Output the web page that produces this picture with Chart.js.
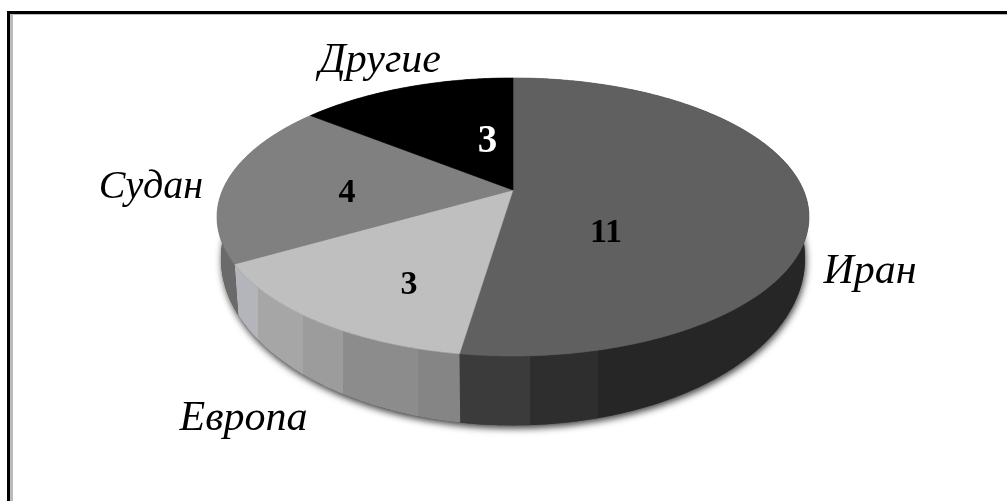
<!DOCTYPE html>
<html>
<head>
<meta charset="utf-8">
<title>Другие, Судан, Европа, Иран</title>
<script src="https://cdn.jsdelivr.net/npm/chart.js@4"></script>
<style>
  body { margin: 0; background: #fff; }
  #marco {
    position: absolute; left: 7px; top: 11px; width: 1000px; height: 490px;
    box-sizing: border-box;
    border-left: 3px solid #000; border-top: 3px solid #000;
    box-shadow: inset 3px 1px 0 #bbb;
  }
  #grafico { position: absolute; left: 0; top: 0; }
</style>
</head>
<body>
<div id="marco"></div>
<canvas id="grafico" width="1007" height="501"></canvas>
<script>
// clockwise from twelve o'clock
const paises = ['Иран', 'Европа', 'Судан', 'Другие'];
const valores = [11, 3, 4, 3];

const coloresTapa = ['#606060', '#bfbfbf', '#808080', '#000000'];
const coloresValor = ['#000', '#000', '#000', '#fff'];

// text anchors on the baseline, same order as paises
const posPais = [[870, 283], [243.5, 430], [151, 198], [380, 72]];
const fuentePais = [42, 42, 40, 42];
const posValor = [[606, 242], [409, 294], [347, 202], [487.5, 152]];
const fuenteValor = [34, 34, 34, 39];

// wall shading: [x, colour] hard steps, the facets of the rounded side
const facetasPared = [
  [[460, '#3b3b3b'], [530, '#2e2e2e'], [598, '#262626'], [810, '#232323']],
  [[237, '#b4b4bb'], [258, '#a6a6a6'], [303, '#9c9c9c'], [343, '#8c8c8c'], [418, '#858585'], [460, '#7a7a7a']],
  [[215, '#6a6a6a'], [240, '#737373']],
  [[215, '#222222'], [810, '#222222']]
];

// perspective disc: k tilts the far side away, tapa = top rim, base = bottom rim
const k = 0.194;
const tapa = { a: 290.4, b: 133.8, y: 190 };
const base = { a: 286.5, b: 160.7, y: 226 };

function proyectar(disco, cx, angulo, r) {
  // chart.js angles start at -PI/2, so sin/cos here are taken from the top
  const t = angulo + Math.PI / 2;
  const u = r * Math.sin(t), v = r * Math.cos(t);
  const w = 1 + k * v;
  return [cx + disco.a * u / w, disco.y - disco.b * v / w];
}

function trazarBorde(ctx, disco, cx, desde, hasta) {
  const pasos = Math.max(2, Math.ceil(Math.abs(hasta - desde) / 0.01));
  for (let i = 0; i <= pasos; i++) {
    const p = proyectar(disco, cx, desde + (hasta - desde) * i / pasos, 1);
    ctx.lineTo(p[0], p[1]);
  }
}

function gradientePared(ctx, pasos) {
  const x0 = 200, x1 = 820;
  const g = ctx.createLinearGradient(x0, 0, x1, 0);
  pasos.forEach((paso, i) => {
    const ini = (Math.max(paso[0], x0) - x0) / (x1 - x0);
    const fin = i + 1 < pasos.length ? (pasos[i + 1][0] - x0) / (x1 - x0) : 1;
    g.addColorStop(ini, paso[1]);
    g.addColorStop(fin, paso[1]);
  });
  return g;
}

const pastel3d = {
  id: 'pastel3d',
  // the flat arcs are replaced, the slices are painted from the arc angles below
  beforeDatasetDraw(chart) {
    const ctx = chart.ctx;
    const arcos = chart.getDatasetMeta(0).data;
    const cx = arcos[0].x;

    ctx.save();
    // soft shadow under the disc
    ctx.shadowColor = 'rgba(0,0,0,0.75)';
    ctx.shadowBlur = 7;
    ctx.shadowOffsetX = 1;
    ctx.shadowOffsetY = 3;
    ctx.fillStyle = '#444';
    ctx.beginPath();
    trazarBorde(ctx, base, cx, 0, Math.PI * 2);
    ctx.closePath();
    ctx.fill();
    ctx.restore();

    // walls
    arcos.forEach((arco, i) => {
      ctx.beginPath();
      trazarBorde(ctx, tapa, cx, arco.startAngle, arco.endAngle);
      trazarBorde(ctx, base, cx, arco.endAngle, arco.startAngle);
      ctx.closePath();
      ctx.fillStyle = gradientePared(ctx, facetasPared[i]);
      ctx.fill();
    });

    // top face
    arcos.forEach(arco => {
      const color = arco.options.backgroundColor;
      ctx.beginPath();
      ctx.moveTo(cx, tapa.y);
      trazarBorde(ctx, tapa, cx, arco.startAngle, arco.endAngle);
      ctx.closePath();
      ctx.fillStyle = color;
      ctx.strokeStyle = color;
      ctx.lineWidth = 0.6;
      ctx.fill();
      ctx.stroke();
    });

    return false;
  },
  afterDatasetsDraw(chart) {
    const ctx = chart.ctx;
    ctx.save();
    ctx.textAlign = 'center';
    ctx.textBaseline = 'alphabetic';

    ctx.fillStyle = '#000';
    paises.forEach((pais, i) => {
      ctx.font = 'italic ' + fuentePais[i] + 'px "Liberation Serif"';
      ctx.fillText(pais, posPais[i][0], posPais[i][1]);
    });

    valores.forEach((valor, i) => {
      ctx.font = 'bold ' + fuenteValor[i] + 'px "Liberation Serif"';
      ctx.fillStyle = coloresValor[i];
      ctx.fillText(String(valor), posValor[i][0], posValor[i][1]);
    });
    ctx.restore();
  }
};

new Chart(document.getElementById('grafico').getContext('2d'), {
  type: 'pie',
  data: {
    labels: paises,
    datasets: [{ data: valores, backgroundColor: coloresTapa, borderWidth: 0 }]
  },
  options: {
    responsive: false,
    animation: false,
    layout: { padding: { left: 19 } },
    plugins: { legend: { display: false }, tooltip: { enabled: false } }
  },
  plugins: [pastel3d]
});
</script>
</body>
</html>
